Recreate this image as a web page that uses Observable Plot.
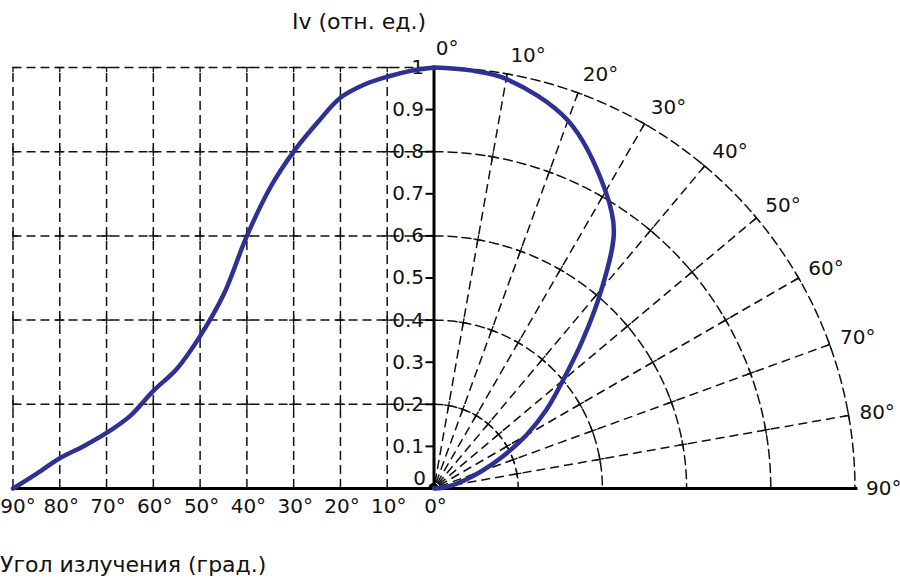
<!DOCTYPE html>
<html><head><meta charset="utf-8">
<script src="https://cdn.jsdelivr.net/npm/d3@7"></script>
<script src="https://cdn.jsdelivr.net/npm/@observablehq/plot@0.6"></script>
<style>
body{margin:0;background:#fff;}
#wrap{position:relative;width:900px;height:579px;overflow:hidden;font-family:"DejaVu Sans",sans-serif;}
#chart{position:absolute;left:0;top:0;}
.t{position:absolute;font-size:22px;line-height:24px;color:#111;white-space:nowrap;}
</style></head><body>
<div id="wrap"><div id="chart"></div>
<div class="t" id="ytitle" style="left:359px;top:10px;transform:translateX(-50%)"></div>
<div class="t" id="xtitle" style="left:0;top:553px"></div></div>
<script>
// ---- data ----
const yTitle = "Iv (отн. ед.)";
const xTitle = "Угол излучения (град.)";
// left (Cartesian) curve: angle in degrees -> relative intensity
const cartAngles = [0, 5, 10, 15, 20, 25, 30, 35, 40, 45, 50, 55, 60, 65, 70, 75, 80, 85, 90];
const cartValues = [1.0, 0.992, 0.978, 0.959, 0.928, 0.868, 0.80, 0.715, 0.60, 0.46, 0.362, 0.284, 0.232, 0.172, 0.132, 0.10, 0.072, 0.035, 0];
// right (polar) curve
const polarAngles = [0, 5, 10, 20, 30, 35, 40, 45, 50, 55, 60, 65, 70, 75, 80, 85, 90];
const polarValues = [1.0, 0.997, 0.988, 0.93, 0.815, 0.745, 0.62, 0.50, 0.40, 0.326, 0.253, 0.18, 0.12, 0.074, 0.045, 0.02, 0];
// grid / ticks
const rayAngles = [10, 20, 30, 40, 50, 60, 70, 80];
const polarLabelAngles = [0, 10, 20, 30, 40, 50, 60, 70, 80, 90];
const bottomAngles = [90, 80, 70, 60, 50, 40, 30, 20, 10, 0];
const ringValues = [0.2, 0.4, 0.6, 0.8, 1.0];
const yTickValues = [0, 0.1, 0.2, 0.3, 0.4, 0.5, 0.6, 0.7, 0.8, 0.9, 1];
const yTickLabels = ["0", "0.1", "0.2", "0.3", "0.4", "0.5", "0.6", "0.7", "0.8", "0.9", "1"];

document.getElementById("ytitle").textContent = yTitle;
document.getElementById("xtitle").textContent = xTitle;

const rad = d => d * Math.PI / 180;
const BLUE = "#2e3192";
const DASH = "9,5";
const h = 0.011;

const cart = cartAngles.map((a, i) => ({x: -a / 90, y: cartValues[i]}));
const polar = polarAngles.map((a, i) => ({x: polarValues[i] * Math.sin(rad(a)), y: polarValues[i] * Math.cos(rad(a))}));

const arcs = [];
for (const r of ringValues) for (let t = 0; t <= 90; t += 1) arcs.push({r, x: r * Math.sin(rad(t)), y: r * Math.cos(rad(t))});
const rays = rayAngles.map(a => ({x1: Math.sin(rad(a)), y1: Math.cos(rad(a)), x2: 0, y2: 0}));

const crosses = [];
for (const r of ringValues) for (const a of rayAngles) {
  const s = Math.sin(rad(a)), c = Math.cos(rad(a));
  const cx = r * s, cy = r * c;
  crosses.push({x1: cx - h * c, y1: cy + h * s, x2: cx + h * c, y2: cy - h * s});
  crosses.push({x1: (r - h) * s, y1: (r - h) * c, x2: Math.min(r + h, 1) * s, y2: Math.min(r + h, 1) * c});
}
const gridX = [1,2,3,4,5,6,7,8,9].map(k => -k / 9);
const gridCross = [];
for (const gx of gridX) for (const gy of ringValues) {
  gridCross.push({x1: Math.max(gx - h, -1), y1: gy, x2: Math.min(gx + h, 0), y2: gy});
  gridCross.push({x1: gx, y1: gy - h, x2: gx, y2: Math.min(gy + h, 1)});
}
const disc = d3.range(0, 181, 10).map(t => ({x: 0.012 * Math.cos(rad(t)), y: 0.012 * Math.sin(rad(t))}));

const labelPts = polarLabelAngles.map(a => ({a, x: 1.022 * Math.sin(rad(a)) + 0.004, y: 1.045 * Math.cos(rad(a))}));
const yTicks = yTickValues.map((v, i) => ({v, label: yTickLabels[i]}));

const plot = Plot.plot({
  width: 900, height: 579,
  marginLeft: 12.5, marginRight: 45.5, marginTop: 67, marginBottom: 91,
  x: {domain: [-1, 1], axis: null},
  y: {domain: [0, 1], axis: null},
  style: {fontFamily: "DejaVu Sans, sans-serif", fontSize: "20px", color: "#111", background: "transparent", overflow: "visible"},
  marks: [
    // left Cartesian grid
    Plot.ruleX(gridX, {y1: 0, y2: 1, stroke: "#111", strokeWidth: 1.5, strokeDasharray: DASH}),
    Plot.ruleY(ringValues, {x1: -1, x2: 0, stroke: "#111", strokeWidth: 1.5, strokeDasharray: DASH}),
    Plot.link(gridCross, {x1: "x1", y1: "y1", x2: "x2", y2: "y2", stroke: "#111", strokeWidth: 1.3}),
    // polar grid
    Plot.line(arcs, {x: "x", y: "y", z: "r", stroke: "#111", strokeWidth: 1.5, strokeDasharray: DASH}),
    Plot.link(rays, {x1: "x1", y1: "y1", x2: "x2", y2: "y2", stroke: "#111", strokeWidth: 1.5, strokeDasharray: DASH}),
    Plot.link(crosses, {x1: "x1", y1: "y1", x2: "x2", y2: "y2", stroke: "#111", strokeWidth: 1.3}),
    // axes
    Plot.ruleX([0], {y1: 0, y2: 1, stroke: "#000", strokeWidth: 3}),
    Plot.ruleY([0], {x1: -1, x2: 1.007, stroke: "#000", strokeWidth: 3}),
    Plot.ruleY(yTicks.filter(d => d.v > 0), {y: "v", x1: -8 / 421, x2: 0, stroke: "#000", strokeWidth: 2}),
    Plot.text(yTicks.filter(d => d.v > 0), {x: 0, y: "v", text: "label", dx: -10, textAnchor: "end", lineAnchor: "middle", fontSize: 20, fill: "#111"}),
    Plot.text(yTicks.filter(d => d.v === 0), {x: 0, y: "v", text: "label", dx: -8, dy: -10, textAnchor: "end", lineAnchor: "middle", fontSize: 20, fill: "#111"}),
    Plot.text(bottomAngles.filter(a => a < 90), {x: d => -d / 90, y: 0, text: d => d + "°", dx: 1.5, dy: 18, textAnchor: "middle", lineAnchor: "middle", fontSize: 20, fill: "#111"}),
    Plot.text(bottomAngles.filter(a => a === 90), {x: d => -d / 90, y: 0, text: d => d + "°", dx: 5, dy: 18, textAnchor: "middle", lineAnchor: "middle", fontSize: 20, fill: "#111"}),
    Plot.text(labelPts, {x: "x", y: "y", text: d => d.a + "°", textAnchor: "start", lineAnchor: "middle", fontSize: 20, fill: "#111"}),
    Plot.areaY(disc, {x: "x", y1: 0, y2: "y", fill: "#000"}),
    // curves
    Plot.line(cart, {x: "x", y: "y", stroke: BLUE, strokeWidth: 4.5, curve: "catmull-rom"}),
    Plot.line(polar, {x: "x", y: "y", stroke: BLUE, strokeWidth: 4.5, curve: "catmull-rom"})
  ]
});
document.getElementById("chart").appendChild(plot);
</script>
</body></html>
